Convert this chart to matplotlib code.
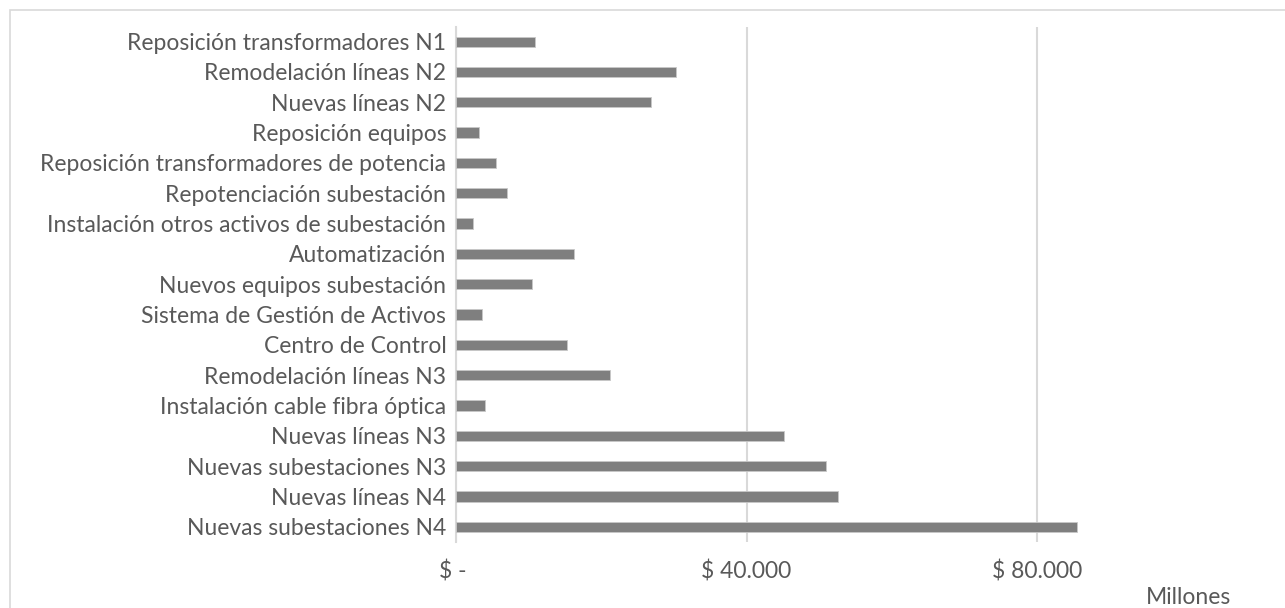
import matplotlib
matplotlib.use("Agg")
import matplotlib.pyplot as plt
from matplotlib.patches import Rectangle
from matplotlib.ticker import FixedLocator, FuncFormatter

# Inversión por tipo de proyecto (millones de pesos), de arriba hacia abajo
proyectos = [
    "Reposición transformadores N1",
    "Remodelación líneas N2",
    "Nuevas líneas N2",
    "Reposición equipos",
    "Reposición transformadores de potencia",
    "Repotenciación subestación",
    "Instalación otros activos de subestación",
    "Automatización",
    "Nuevos equipos subestación",
    "Sistema de Gestión de Activos",
    "Centro de Control",
    "Remodelación líneas N3",
    "Instalación cable fibra óptica",
    "Nuevas líneas N3",
    "Nuevas subestaciones N3",
    "Nuevas líneas N4",
    "Nuevas subestaciones N4",
]
inversion = [10850, 30250, 26850, 3200, 5450, 7000, 2300, 16250, 10500,
             3600, 15300, 21250, 4050, 45100, 51000, 52600, 85500]
marcas_x = [0, 40000, 80000]

gris_txt = "#595959"
gris_lin = "#d9d9d9"

plt.rcParams["font.family"] = ["Lato", "DejaVu Sans"]

fig = plt.figure(figsize=(12.85, 6.08), dpi=100)
fig.patches.append(Rectangle((10 / 1285, -0.1), 1.2, 1 - 10 / 608 + 0.1,
                             transform=fig.transFigure, fill=False,
                             edgecolor=gris_lin, linewidth=1.2))

ax = fig.add_axes([456 / 1285, 66 / 608, 829 / 1285, 515.5 / 608])
pos = range(len(proyectos))
ax.barh(pos, inversion, height=0.34, color="#7f7f7f",
        edgecolor="#c8c8c8", linewidth=0.6, zorder=3)
ax.set_ylim(len(proyectos) - 0.5, -0.5)
ax.set_xlim(0, 829 / 290.5 * 40000)

ax.set_yticks(list(pos))
ax.set_yticklabels(proyectos)
ax.xaxis.set_major_locator(FixedLocator(marcas_x))
ax.xaxis.set_major_formatter(FuncFormatter(
    lambda v, _: "$ - " if v == 0 else "$ " + f"{v:,.0f}".replace(",", ".")))
ax.tick_params(axis="both", length=0, labelsize=16.5, colors=gris_txt)
ax.tick_params(axis="y", pad=7)
ax.tick_params(axis="x", pad=13)

ax.grid(axis="x", color=gris_lin, linewidth=1.5, zorder=0)
for s in ["top", "right", "bottom"]:
    ax.spines[s].set_visible(False)
ax.spines["left"].set_color(gris_lin)
ax.spines["left"].set_linewidth(1.5)

fig.text(1188 / 1285, 1 - 597 / 608, "Millones", ha="center", va="center",
         fontsize=16.5, color=gris_txt)

fig.savefig("out.png", dpi=100)
